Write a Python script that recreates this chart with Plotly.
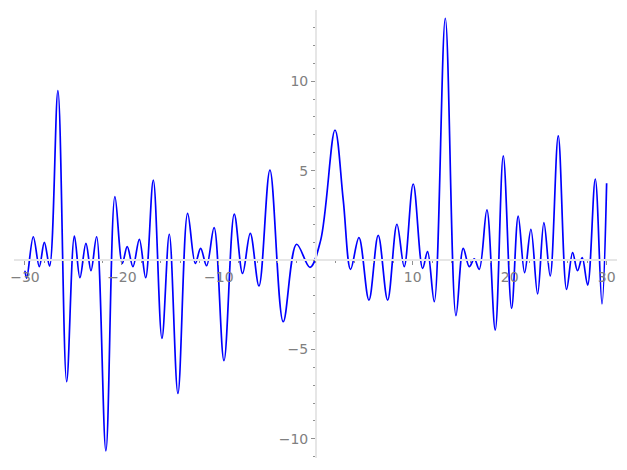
import plotly.graph_objects as go

x_pts = [-30.0, -29.82, -29.14, -28.52, -28.0, -27.46, -26.6, -25.7, -24.9, -24.33,
         -23.71, -23.19, -22.61, -21.65, -20.72, -19.96, -19.45, -18.86, -18.2, -17.55,
         -16.76, -15.87, -15.11, -14.22, -13.22, -12.43, -11.88, -11.26, -10.49, -9.47,
         -8.41, -7.55, -6.76, -5.86, -4.73, -3.36, -1.98, -0.6, 0.5,
         1.98, 2.83, 3.59, 4.45, 5.48, 6.44, 7.41, 8.37, 9.12, 10.05,
         11.02, 11.53, 12.22, 13.36, 14.46, 15.21, 15.83, 16.35, 16.86, 17.65,
         18.51, 19.34, 20.2, 20.88, 21.54, 22.19, 22.88, 23.53, 24.18, 25.01,
         25.87, 26.49, 27.0, 27.48, 28.04, 28.83, 29.52, 30.0]
y_pts = [-0.6, -1.02, 1.30, -0.37, 0.99, -0.34, 9.47, -6.8, 1.34, -0.99,
         0.93, -0.6, 1.30, -10.67, 3.54, -0.19, 0.75, -0.37, 1.16, -0.99,
         4.47, -4.38, 1.44, -7.46, 2.61, -0.19, 0.65, -0.32, 1.81, -5.63,
         2.57, -0.75, 1.49, -1.45, 5.03, -3.45, 0.88, -0.41, 1.1,
         7.27, 3.36, -0.52, 1.25, -2.24, 1.38, -2.24, 2.0, -0.37, 4.25,
         -0.47, 0.47, -2.33, 13.52, -3.11, 0.65, -0.37, 0.06, -0.52, 2.80,
         -3.91, 5.82, -2.7, 2.46, -0.71, 1.72, -1.90, 2.09, -0.89, 6.94,
         -1.64, 0.41, -0.6, 0.13, -1.40, 4.53, -2.46, 4.29]

x_major = [-30, -20, -10, 10, 20, 30]
x_labels = ["\u221230", "\u221220", "\u221210", "10", "20", "30"]
y_major = [-10, -5, 5, 10]
y_labels = ["\u221210", "\u22125", "5", "10"]
x_minor = [v for v in range(-30, 31, 2)]
y_minor = [v for v in range(-11, 14)]

x_range = [-31.13, 31.07]
y_range = [-11.07, 13.98]

fig = go.Figure(go.Scatter(x=x_pts, y=y_pts, mode="lines",
                           line=dict(color="#0000ff", width=1.7, shape="spline", smoothing=1.0)))

tick_font = dict(family="DejaVu Sans", size=14, color="#808080")
fig.update_layout(
    width=619, height=462,
    margin=dict(l=6, r=10, t=2, b=12),
    plot_bgcolor="white", paper_bgcolor="white",
    showlegend=False,
    xaxis=dict(range=x_range, showgrid=False, zeroline=False, showline=True,
               automargin=False,
               linecolor="#e6e6e6", linewidth=1.5, anchor="free",
               position=(0 - y_range[0]) / (y_range[1] - y_range[0]),
               tickmode="array", tickvals=x_major, ticktext=x_labels,
               ticks="outside", ticklen=4, tickwidth=1, tickcolor="#909090",
               tickfont=tick_font,
               minor=dict(tickmode="array", tickvals=x_minor, ticks="outside",
                          ticklen=2, tickwidth=1, tickcolor="#909090")),
    yaxis=dict(range=y_range, showgrid=False, zeroline=False, showline=True,
               automargin=False,
               linecolor="#e6e6e6", linewidth=1.5, anchor="free",
               position=(0 - x_range[0]) / (x_range[1] - x_range[0]),
               tickmode="array", tickvals=y_major, ticktext=y_labels,
               ticks="outside", ticklen=4, tickwidth=1, tickcolor="#909090",
               tickfont=tick_font,
               minor=dict(tickmode="array", tickvals=y_minor, ticks="outside",
                          ticklen=2, tickwidth=1, tickcolor="#909090")),
)

fig.write_html("out.html")
